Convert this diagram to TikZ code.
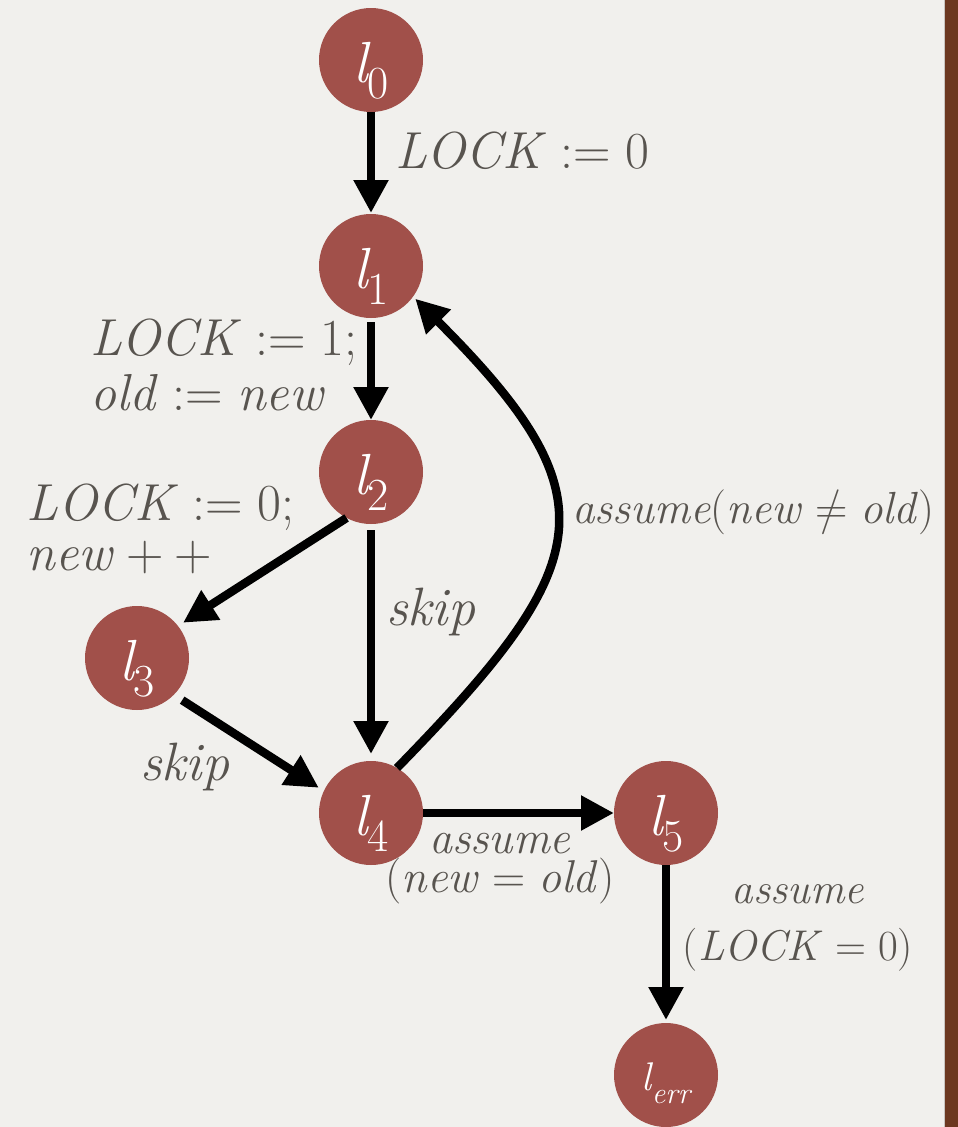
\documentclass[tikz,border=0pt]{standalone}
\usepackage{fontspec}
\usetikzlibrary{arrows.meta}
\definecolor{bgc}{RGB}{241,240,237}
\definecolor{nodered}{RGB}{161,80,74}
\definecolor{txtc}{RGB}{88,84,79}
\definecolor{barc}{RGB}{108,56,32}
\definecolor{barline}{RGB}{200,196,192}
\newcommand\fs[1]{\fontsize{#1}{#1}\selectfont}
\newcommand\lsub[1]{{\fs{58}\itshape l}\raisebox{-16pt}{\fs{46}#1}}
\newcommand\lerrsub{{\fs{40}\itshape l}\raisebox{-13pt}{\fs{30}\itshape err}}
\newcommand\rel[1]{\hspace{0.28em}#1\hspace{0.28em}}
\newcommand\iv[1]{\textit{#1}}
\newcommand\nequal{\ooalign{=\cr\hidewidth/\hidewidth\cr}}
\newcommand\twoc[3]{\vtop{\baselineskip=#1\lineskiplimit=-100pt\lineskip=0pt\halign{\hfil##\hfil\cr#2\cr#3\cr}}}
\newcommand\twol[3]{\vtop{\baselineskip=#1\lineskiplimit=-100pt\lineskip=0pt\halign{##\hfil\cr#2\cr#3\cr}}}
\tikzset{
  loc/.style={circle, fill=nodered, minimum size=104pt, inner sep=0pt, outer sep=0pt,
    text=white, text height=50pt, text depth=6pt},
  lab/.style={text=txtc, inner sep=0pt, outer sep=0pt},
  arr/.style={line width=8.5pt, draw=black, -{Triangle[length=33pt,width=33pt]}},
}
\begin{document}
\begin{tikzpicture}[x=1pt,y=1pt]
\useasboundingbox (0,0) rectangle (958,-1127);
\fill[bgc] (0,0) rectangle (958,-1127);
\fill[barc] (945,0) rectangle (958,-1127);
\fill[barline] (943.5,0) rectangle (945,-1127);

% locations
\node[loc] (l0) at (371,-60) {\lsub{0}};
\node[loc] (l1) at (371,-266) {\lsub{1}};
\node[loc] (l2) at (371,-472) {\lsub{2}};
\node[loc] (l3) at (137,-658) {\lsub{3}};
\node[loc] (l4) at (371,-813) {\lsub{4}};
\node[loc] (l5) at (666,-813) {\lsub{5}};
\node[loc, text height=36pt, text depth=6pt] (lerr) at (666,-1075) {\lerrsub};

% edges
\draw[arr, shorten >=1pt] (l0) -- (l1);
\draw[arr, shorten <=4pt] (l1) -- (l2);
\draw[arr, shorten >=6pt] (l2.242) -- (l3.38);
\draw[arr, shorten <=6pt, shorten >=7pt] (l2) -- (l4);
\draw[arr, shorten <=10pt, shorten >=6pt] (l3.-45) -- (l4.155);
\draw[arr, shorten >=3pt] (l4.60) .. controls (596,-564) and (615,-498) .. (l1.-36);
\draw[arr] (l4) -- (l5);
\draw[arr, shorten >=3pt] (l5) -- (lerr);

% labels
\node[lab, anchor=base west, font=\fs{52}] (t01) at (395,-168) {\iv{LOCK}\rel{:=}0};
\node[lab, anchor=base west, font=\fs{52}] (t12) at (90,-355)
  {\twol{55pt}{\iv{LOCK}\rel{:=}1;}{\iv{old}\rel{:=}\iv{new}}};
\node[lab, anchor=base west, font=\fs{52}] (t23) at (27,-520)
  {\twol{50pt}{\iv{LOCK}\rel{:=}0;}{\iv{new}\hspace{0.22em}+\hspace{0.22em}+}};
\node[lab, anchor=base west, font=\fs{54}] (t24) at (386,-625) {\iv{skip}};
\node[lab, anchor=base west, font=\fs{54}] (t34) at (140,-780) {\iv{skip}};
\node[lab, anchor=base west, font=\fs{45}] (t41) at (572,-523)
  {\iv{assume}(\iv{new}\rel{\nequal}\iv{old})};
\node[lab, anchor=base, font=\fs{46}] (t45) at (500,-853)
  {\twoc{39pt}{\iv{assume}}{(\iv{new}\rel{=}\iv{old})}};
\node[lab, anchor=base, font=\fs{43}] (t5e) at (798,-903)
  {\twoc{57pt}{\iv{assume}}{(\iv{LOCK}\rel{=}0)}};
\end{tikzpicture}
\end{document}
